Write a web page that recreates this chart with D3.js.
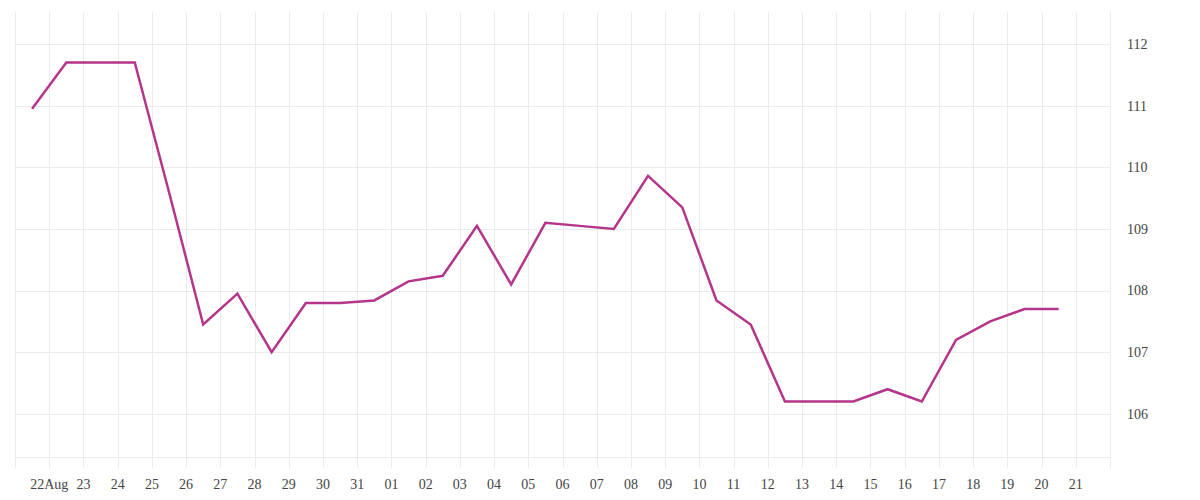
<!DOCTYPE html>
<html>
<head>
<meta charset="utf-8">
<script src="https://cdn.jsdelivr.net/npm/d3@7"></script>
<style>
  body { margin: 0; background: #fff; }
</style>
</head>
<body>
<svg id="chart"></svg>
<script>
// daily readings, one per day from 21 Aug to 20 Sep
const days = [
  "2023-08-21", "2023-08-22", "2023-08-23", "2023-08-24", "2023-08-25",
  "2023-08-26", "2023-08-27", "2023-08-28", "2023-08-29", "2023-08-30",
  "2023-08-31", "2023-09-01", "2023-09-02", "2023-09-03", "2023-09-04",
  "2023-09-05", "2023-09-06", "2023-09-07", "2023-09-08", "2023-09-09",
  "2023-09-10", "2023-09-11", "2023-09-12", "2023-09-13", "2023-09-14",
  "2023-09-15", "2023-09-16", "2023-09-17", "2023-09-18", "2023-09-19",
  "2023-09-20"
];
const values = [
  110.95, 111.7, 111.7, 111.7, 109.6,
  107.45, 107.95, 107.0, 107.8, 107.8,
  107.84, 108.15, 108.24, 109.05, 108.1,
  109.1, 109.05, 109.0, 109.86, 109.35,
  107.84, 107.45, 106.2, 106.2, 106.2,
  106.4, 106.2, 107.2, 107.5, 107.7,
  107.7
];
const yTicks = [106, 107, 108, 109, 110, 111, 112];

const width = 1200, height = 500;
const margin = { top: 12, right: 90, bottom: 43, left: 15 };
const font = "'Liberation Serif', 'Times New Roman', serif";

const parse = d3.timeParse("%Y-%m-%d");
const data = days.map((d, i) => ({ date: d3.timeHour.offset(parse(d), 12), value: values[i] }));

const start = parse(days[0]);
const end = d3.timeDay.offset(parse(days[days.length - 1]), 2);

const svg = d3.select("#chart")
  .attr("width", width)
  .attr("height", height);

const x = d3.scaleTime()
  .domain([start, end])
  .range([margin.left, width - margin.right]);

const y = d3.scaleLinear()
  .domain([105.3, 112.52])
  .range([height - margin.bottom, margin.top]);

const grid = svg.append("g").attr("stroke", "#ebebeb").attr("stroke-width", 1);

// vertical day lines, running a little below the plot as ticks
grid.selectAll("line.v")
  .data(d3.timeDay.range(start, d3.timeDay.offset(end, 1)))
  .enter()
  .append("line")
  .attr("class", "v")
  .attr("x1", d => Math.round(x(d)) + 0.5)
  .attr("x2", d => Math.round(x(d)) + 0.5)
  .attr("y1", margin.top)
  .attr("y2", height - margin.bottom + 11);

grid.selectAll("line.h")
  .data(yTicks.concat([y.domain()[0]]))
  .enter()
  .append("line")
  .attr("class", "h")
  .attr("x1", margin.left)
  .attr("x2", width - margin.right)
  .attr("y1", d => Math.round(y(d)) + 0.5)
  .attr("y2", d => Math.round(y(d)) + 0.5);

// x labels
const labelDays = d3.timeDay.range(d3.timeDay.offset(start, 1), end);
svg.append("g")
  .attr("font-family", font)
  .attr("font-size", 14)
  .attr("fill", "#444")
  .selectAll("text")
  .data(labelDays)
  .enter()
  .append("text")
  .attr("x", d => x(d))
  .attr("y", height - 11)
  .attr("text-anchor", "middle")
  .text((d, i) => i === 0 ? d3.timeFormat("%d%b")(d) : d3.timeFormat("%d")(d));

// y labels on the right
svg.append("g")
  .attr("font-family", font)
  .attr("font-size", 14)
  .attr("fill", "#444")
  .selectAll("text")
  .data(yTicks)
  .enter()
  .append("text")
  .attr("x", width - margin.right + 17)
  .attr("y", d => y(d))
  .attr("dy", "0.35em")
  .text(d => d);

const line = d3.line()
  .x(d => x(d.date))
  .y(d => y(d.value));

svg.append("path")
  .datum(data)
  .attr("fill", "none")
  .attr("stroke", "#b5358b")
  .attr("stroke-width", 2.5)
  .attr("d", line);
</script>
</body>
</html>
